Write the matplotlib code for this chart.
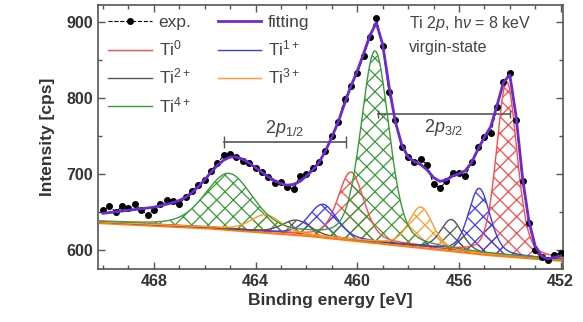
import numpy as np
import matplotlib
matplotlib.use('Agg')
import matplotlib.pyplot as plt
from matplotlib.ticker import MultipleLocator

plt.rcParams['font.family'] = ['Liberation Sans', 'DejaVu Sans']
plt.rcParams['hatch.linewidth'] = 0.9
plt.rcParams['mathtext.fontset'] = 'custom'
plt.rcParams['mathtext.it'] = 'Liberation Sans:italic'
plt.rcParams['mathtext.rm'] = 'Liberation Sans'

# experimental points (binding energy step 0.25 eV, 470 -> 452)
energy = np.arange(470.0, 451.99, -0.25)
counts = [652, 657, 650, 657, 655, 660, 652, 646, 653, 660,
          666, 664, 660, 670, 677, 685, 692, 704, 714, 724,
          726, 722, 717, 714, 707, 702, 696, 688, 689, 683,
          680, 697, 700, 707, 716, 730, 750, 768, 798, 815,
          832, 855, 880, 905, 868, 807, 770, 735, 722, 716,
          719, 712, 686, 681, 690, 701, 701, 697, 716, 735,
          748, 754, 788, 820, 833, 770, 690, 635, 600, 590,
          587, 593, 596]

# fitted envelope, same energies
fitting = [648, 649, 650, 651, 652, 653, 654, 655, 656, 658,
           660, 662, 665, 669, 675, 683, 692, 702, 711, 718,
           722, 722, 719, 714, 708, 702, 696, 691, 687, 685,
           686, 690, 697, 705, 715, 730, 748, 768, 792, 815,
           835, 858, 882, 898, 870, 815, 768, 738, 722, 716,
           712, 705, 695, 690, 692, 697, 700, 704, 715, 732,
           748, 762, 790, 820, 830, 775, 695, 638, 605, 592,
           588, 590, 592]

# background (knots)
bg_energy = [470.3, 466.0, 462.0, 458.0, 455.0, 451.9]
bg_counts = [637, 630, 620, 606, 595, 587]

# fitted components: (center, height, fwhm) for 2p3/2 and 2p1/2
labels = ['Ti$^{0}$', 'Ti$^{1+}$', 'Ti$^{2+}$', 'Ti$^{3+}$', 'Ti$^{4+}$']
colors = ['#ff4a4a', '#3a3aff', '#555555', '#ff9b2a', '#3a9a3a']
p32_center = [454.12, 455.20, 456.30, 457.50, 459.30]
p32_height = [228, 85, 40, 52, 250]
p32_fwhm = [0.95, 1.0, 1.0, 1.1, 1.3]
p12_center = [460.25, 461.35, 462.40, 463.60, 465.05]
p12_height = [88, 42, 18, 22, 72]
p12_fwhm = [1.2, 1.3, 1.3, 1.4, 2.2]

mix = 0.3  # Lorentzian fraction of the line shape


def peak(e, c, h, w):
    d = e - c
    gauss = np.exp(-4 * np.log(2) * d ** 2 / w ** 2)
    lor = 1 / (1 + 4 * d ** 2 / w ** 2)
    return h * ((1 - mix) * gauss + mix * lor)


e_fine = np.linspace(470.3, 451.9, 800)
bg = np.interp(e_fine, bg_energy[::-1], bg_counts[::-1])

fig = plt.figure(figsize=(5.83, 3.22), dpi=100)
ax = fig.add_axes([0.168, 0.165, 0.798, 0.82])

# background band
ax.plot(e_fine, bg - 1.5, color='#ff7a10', lw=1.6, zorder=2)
ax.plot(e_fine, bg + 1.0, color='#d84020', lw=0.8, zorder=2)

for i in range(len(labels)):
    comp = peak(e_fine, p32_center[i], p32_height[i], p32_fwhm[i]) + \
        peak(e_fine, p12_center[i], p12_height[i], p12_fwhm[i])
    ax.fill_between(e_fine, bg, bg + comp, facecolor='none', edgecolor=colors[i],
                    hatch='xx', linewidth=0)
    ax.plot(e_fine, bg + comp, color=colors[i], lw=1.0, label=labels[i], zorder=3)

ax.plot(energy, counts, ls='--', color='black', lw=0.8, marker='o', ms=4,
        label='exp.', zorder=4)
ax.plot(energy, fitting, color='#6a2bd0', lw=2.0, label='fitting', zorder=5)

# spin-orbit splitting brackets
ax.plot([465.25, 460.45], [742, 742], color='#555555', lw=1.2, marker='|', ms=8)
ax.text(462.85, 746, r'2$\mathit{p}_{1/2}$', ha='center', va='bottom', fontsize=13, color='#444444')
ax.plot([459.2, 454.0], [778, 778], color='#555555', lw=1.2, marker='|', ms=6)
ax.text(456.6, 774, r'2$\mathit{p}_{3/2}$', ha='center', va='top', fontsize=13, color='#444444')

ax.text(457.95, 898, r'Ti 2$\mathit{p}$, h$\nu$ = 8 keV', fontsize=11.5, color='#444444', va='center')
ax.text(457.95, 866, 'virgin-state', fontsize=11.5, color='#444444', va='center')

ax.set_xlim(470.2, 451.9)
ax.set_ylim(575, 922)
ax.xaxis.set_major_locator(MultipleLocator(4))
ax.xaxis.set_minor_locator(MultipleLocator(1))
ax.yaxis.set_major_locator(MultipleLocator(100))
ax.yaxis.set_minor_locator(MultipleLocator(50))
ax.tick_params(which='both', direction='in', top=True, right=True, colors='#555555',
               labelcolor='#333333', labelsize=11.5)
ax.tick_params(which='major', length=5, width=1)
ax.tick_params(which='minor', length=3, width=1)
for lab in ax.get_xticklabels() + ax.get_yticklabels():
    lab.set_fontweight('bold')
for s in ax.spines.values():
    s.set_color('#555555')
    s.set_linewidth(1.2)

ax.set_xlabel('Binding energy [eV]', fontsize=12.5, fontweight='bold', color='#333333', labelpad=3)
ax.set_ylabel('Intensity [cps]', fontsize=12.5, fontweight='bold', color='#333333', labelpad=8)

h, l = ax.get_legend_handles_labels()
order = [5, 0, 2, 4, 6, 1, 3]
ax.legend([h[k] for k in order], [l[k] for k in order], ncol=2, loc='upper left',
          frameon=False, fontsize=12.5, labelspacing=0.48, handlelength=2.5,
          handletextpad=0.4, columnspacing=1.5, borderaxespad=0.2,
          labelcolor='#444444')

fig.savefig('out.png', dpi=100)
